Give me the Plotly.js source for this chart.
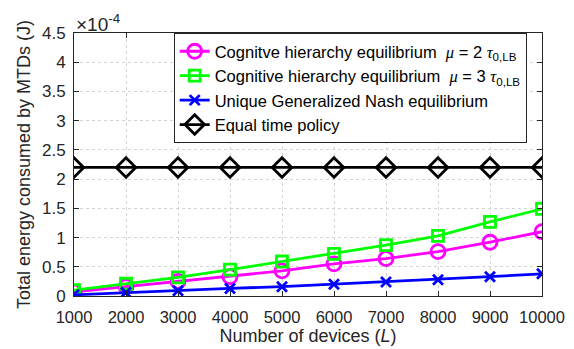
<!DOCTYPE html>
<html>
<head>
<meta charset="utf-8">
<script src="https://cdn.plot.ly/plotly-3.0.1.min.js"></script>
<style>html,body{margin:0;padding:0;background:#fff;}</style>
</head>
<body>
<div id="chart" style="width:574px;height:349px;"></div>
<script>
// Number of devices L
const devices = [1000, 2000, 3000, 4000, 5000, 6000, 7000, 8000, 9000, 10000];
// Total energy in units of 1e-4 J
const cheMu2 = [0.07, 0.16, 0.25, 0.33, 0.43, 0.55, 0.64, 0.76, 0.92, 1.10];
const cheMu3 = [0.10, 0.21, 0.32, 0.45, 0.59, 0.72, 0.87, 1.03, 1.27, 1.49];
const ugne   = [0.02, 0.06, 0.09, 0.13, 0.16, 0.20, 0.24, 0.28, 0.33, 0.38];
const equalTime = [2.2, 2.2, 2.2, 2.2, 2.2, 2.2, 2.2, 2.2, 2.2, 2.2];
const yTicks = [0, 0.5, 1, 1.5, 2, 2.5, 3, 3.5, 4, 4.5];
const yTickText = ['0', '0.5', '1', '1.5', '2', '2.5', '3', '3.5', '4', '4.5'];

const font = 'Liberation Sans, Arial, sans-serif';
const greek = s => '<span style="font-family:Liberation Serif, serif;font-style:italic">' + s + '</span>';
const tau = greek('τ') + '<sub>0,LB</sub>';

const traces = [
  {x: devices, y: cheMu2, name: 'Cognitve hierarchy equilibrium  ' + greek('μ') + ' = 2 ' + tau,
   mode: 'lines+markers', line: {color: '#ff00ff', width: 2.8},
   marker: {symbol: 'circle-open', size: 14, color: '#ff00ff', line: {width: 2.8}}},
  {x: devices, y: cheMu3, name: 'Cognitive hierarchy equilibrium  ' + greek('μ') + ' = 3 ' + tau,
   mode: 'lines+markers', line: {color: '#00ff00', width: 2.8},
   marker: {symbol: 'square-open', size: 11, color: '#00ff00', line: {width: 2.8}}},
  {x: devices, y: ugne, name: 'Unique Generalized Nash equilibrium',
   mode: 'lines+markers', line: {color: '#0000ff', width: 2.8},
   marker: {symbol: 'x-thin-open', size: 10, color: '#0000ff', line: {width: 2.8, color: '#0000ff'}}},
  {x: devices, y: equalTime, name: 'Equal time policy',
   mode: 'lines+markers', line: {color: '#000000', width: 2.8},
   marker: {symbol: 'diamond-open', size: 15, color: '#000000', line: {width: 2.8}}}
];

const layout = {
  width: 574, height: 349,
  margin: {l: 74, r: 32, t: 33, b: 53},
  paper_bgcolor: '#fff', plot_bgcolor: '#fff',
  font: {family: font, size: 16, color: '#262626'},
  showlegend: true,
  legend: {
    x: 0.213, y: 1, xanchor: 'left', yanchor: 'top',
    bgcolor: '#fff', bordercolor: '#262626', borderwidth: 1,
    font: {family: font, size: 16.5, color: '#000'},
    tracegroupgap: 0, itemwidth: 30
  },
  xaxis: {
    range: [1000, 10000], tickvals: devices, ticktext: devices.map(String),
    showline: true, linecolor: '#262626', linewidth: 1, mirror: 'ticks',
    ticks: 'inside', ticklen: 5, tickcolor: '#262626',
    showgrid: true, gridcolor: '#d4d4d4', griddash: 'dot', gridwidth: 1,
    zeroline: false, ticklabelstandoff: 6,
    tickfont: {family: font, size: 16.5, color: '#262626'},
    title: {text: 'Number of devices (<i>L</i>)', font: {family: font, size: 18, color: '#262626'}, standoff: 4}
  },
  yaxis: {
    range: [0, 4.5], tickvals: yTicks, ticktext: yTickText,
    showline: true, linecolor: '#262626', linewidth: 1, mirror: 'ticks',
    ticks: 'inside', ticklen: 5, tickcolor: '#262626',
    showgrid: true, gridcolor: '#d4d4d4', griddash: 'dot', gridwidth: 1,
    zeroline: false, ticklabelstandoff: 4,
    tickfont: {family: font, size: 17, color: '#262626'},
    title: {text: 'Total energy consumed by MTDs (J)', font: {family: font, size: 18, color: '#262626'}, standoff: 6}
  },
  annotations: [{
    xref: 'paper', yref: 'paper', x: 0, y: 1, xanchor: 'left', yanchor: 'bottom',
    text: '×10<sup>-4</sup>', showarrow: false, yshift: -4,
    font: {family: font, size: 19, color: '#262626'}
  }]
};

Plotly.newPlot('chart', traces, layout, {displayModeBar: false, staticPlot: true});
</script>
</body>
</html>
